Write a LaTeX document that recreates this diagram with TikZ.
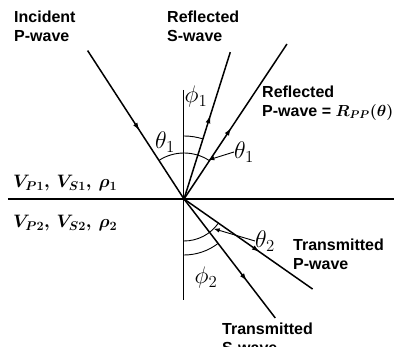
\RequirePackage{fix-cm}
\documentclass[tikz,border=0pt]{standalone}
\usepackage{fontspec}
\setsansfont{Liberation Sans}
\usetikzlibrary{arrows.meta,decorations.markings}

\begin{document}
\begin{tikzpicture}[x=1pt, y=1pt, >={Latex[length=6pt,width=4.5pt]},
    ray/.style={line width=1.5pt, postaction={decorate},
      decoration={markings, mark=at position #1 with {\arrow{Latex[length=8pt,width=5pt]}}}},
    wavelabel/.style={font=\fontsize{16}{19}\selectfont\sffamily\bfseries,
      align=left, anchor=west, inner sep=0pt},
    anglabel/.style={font=\fontsize{24}{26}\selectfont, inner sep=0pt},
    medium/.style={font=\fontsize{18}{20}\selectfont\boldmath,
      anchor=west, inner sep=0pt}]
    \useasboundingbox (-184,-148) rectangle (210,199);

    % Interface and normal
    \coordinate (O) at (0,0);
    \coordinate (ifL) at (-176,0);
    \coordinate (ifR) at (210,0);
    \coordinate (nTop) at (0,109);
    \coordinate (nBot) at (0,-101);
    \draw[line width=1.2pt] (ifL) -- (ifR);
    \draw[line width=1pt] (nTop) -- (nBot);

    % Ray ends (angles measured from the x-axis)
    \coordinate (incP) at (123:177);
    \coordinate (refS) at (72.5:154);
    \coordinate (refP) at (56.4:186);
    \coordinate (traP) at (-35:157);
    \coordinate (traS) at (-52.5:150);

    % Rays
    \draw[ray=0.54] (incP) -- (O);
    \draw[ray=0.57] (O) -- (refS);
    \draw[ray=0.46] (O) -- (refP);
    \draw[ray=0.59] (O) -- (traP);
    \draw[ray=0.69] (O) -- (traS);

    % Angle arcs
    \draw[line width=0.9pt] (123:46) arc (123:56.4:46);
    \draw[line width=0.9pt] (90:63) arc (90:72.5:63);
    \draw[line width=0.9pt] (-90:42) arc (-90:-35:42);
    \draw[line width=0.9pt] (-90:56) arc (-90:-52.5:56);

    % Angle labels
    \node[anglabel] (th1L) at (-19,57) {$\theta_1$};
    \node[anglabel] (ph1) at (12,102) {$\phi_1$};
    \node[anglabel] (th1R) at (60,47) {$\theta_1$};
    \node[anglabel] (th2) at (81,-42) {$\theta_2$};
    \node[anglabel] (ph2) at (22,-79) {$\phi_2$};
    \coordinate (th1Tip) at (58:46);
    \coordinate (th2Tip) at (-45:42);
    \draw[->, line width=0.9pt] (th1R.west) -- (th1Tip);
    \draw[->, line width=0.9pt] (th2.west) -- (th2Tip);

    % Wave labels
    \node[wavelabel] (lblInc) at (-170,173) {Incident\\P-wave};
    \node[wavelabel] (lblRefS) at (-17,173) {Reflected\\S-wave};
    \node[wavelabel] (lblRefP) at (78,96) {Reflected\\P-wave = {\boldmath$R_{PP}(\theta)$}};
    \node[wavelabel] (lblTraP) at (109,-55) {Transmitted\\P-wave};
    \node[wavelabel] (lblTraS) at (38,-139) {Transmitted\\S-wave};

    % Media
    \node[medium] (top) at (-171,16) {$V_{P1},\, V_{S1},\, \rho_1$};
    \node[medium] (bot) at (-171,-24) {$V_{P2},\, V_{S2},\, \rho_2$};
\end{tikzpicture}
\end{document}
